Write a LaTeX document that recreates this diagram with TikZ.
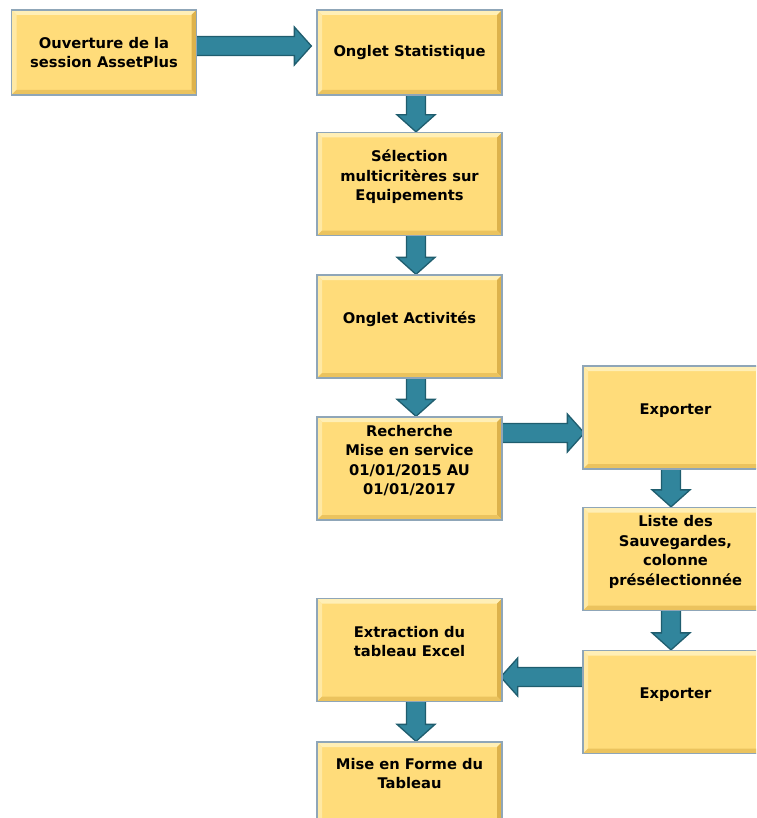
\documentclass[tikz,border=0pt]{standalone}
\usepackage{fontspec}
\setmainfont{DejaVu Sans}
\usepackage{xcolor}
\usepackage{tikz}
\usetikzlibrary{calc,backgrounds}

\definecolor{boxfill}{HTML}{FFDC7A}
\definecolor{boxtop}{HTML}{FFEFB6}
\definecolor{boxshade}{HTML}{DDB24C}
\definecolor{boxline}{HTML}{8FA6B8}
\definecolor{arrowfill}{HTML}{31859C}
\definecolor{arrowline}{HTML}{1F5D6E}

\tikzset{
  stepbox/.style={draw=boxline, line width=1.3pt, fill=boxfill,
    minimum width=185pt, minimum height=85pt, inner sep=2pt, align=center,
    font=\fontsize{14.7}{19.5}\selectfont\bfseries,
    path picture={
      % bevel
      \fill[boxtop] (path picture bounding box.north west) -- (path picture bounding box.north east)
        -- ([xshift=-5pt,yshift=-5pt]path picture bounding box.north east) -- ([xshift=5pt,yshift=-5pt]path picture bounding box.north west) -- cycle;
      \fill[boxtop!70!boxfill] (path picture bounding box.north west) -- (path picture bounding box.south west)
        -- ([xshift=5pt,yshift=5pt]path picture bounding box.south west) -- ([xshift=5pt,yshift=-5pt]path picture bounding box.north west) -- cycle;
      \fill[boxshade] (path picture bounding box.north east) -- (path picture bounding box.south east)
        -- ([xshift=-5pt,yshift=5pt]path picture bounding box.south east) -- ([xshift=-5pt,yshift=-5pt]path picture bounding box.north east) -- cycle;
      \fill[boxshade!60!boxfill] (path picture bounding box.south west) -- (path picture bounding box.south east)
        -- ([xshift=-5pt,yshift=5pt]path picture bounding box.south east) -- ([xshift=5pt,yshift=5pt]path picture bounding box.south west) -- cycle;
    }},
  tallbox/.style={stepbox, minimum height=103pt, text depth=17pt},
  flowline/.style={fill=arrowfill, draw=arrowline, line width=1.3pt, line join=miter}
}

% block arrow from #1 to #2
\newcommand\flowarrow[2]{%
  \draw[flowline] let \p1=(#1), \p2=(#2), \n1={atan2(\y2-\y1,\x2-\x1)}, \n2={veclen(\x2-\x1,\y2-\y1)} in
    [shift={(\p1)}, rotate=\n1]
    (0,-9.5) -- ({\n2-17},-9.5) -- ({\n2-17},-19) -- (\n2,0) -- ({\n2-17},19) -- ({\n2-17},9.5) -- (0,9.5) -- cycle;
}

\begin{document}
\begin{tikzpicture}[x=1pt, y=-1pt]
    \useasboundingbox (0,0) rectangle (756,818);
    \clip (0,0) rectangle (756,818);

    % Left column
    \node[stepbox] (ouverture) at (104,52.5) {Ouverture de la\\session AssetPlus};

    % Middle column
    \node[stepbox] (statistique) at (409.5,52.5) {Onglet Statistique};
    \node[tallbox] (selection) at (409.5,184) {S\'election\\multicrit\`eres sur\\Equipements};
    \node[tallbox] (activites) at (409.5,326.5) {Onglet Activit\'es};
    \node[tallbox] (recherche) at (409.5,468.5) {Recherche\\Mise en service\\01/01/2015 AU\\01/01/2017};
    \node[tallbox] (extraction) at (409.5,650) {Extraction du\\tableau Excel};
    \node[tallbox, text depth=40pt] (miseforme) at (409.5,793.5) {Mise en Forme du\\Tableau};

    % Right column
    \node[tallbox] (exporter) at (675.5,417.5) {Exporter};
    \node[tallbox] (sauvegardes) at (675.5,559) {Liste des\\Sauvegardes,\\colonne\\pr\'es\'electionn\'ee};
    \node[tallbox] (exporterbis) at (675.5,702) {Exporter};

    % Arrows
    \begin{pgfonlayer}{background}
    \flowarrow{[xshift=-2pt,yshift=6.5pt]ouverture.east}{[xshift=-5pt,yshift=6.5pt]statistique.west}
    \flowarrow{[xshift=6.5pt,yshift=2pt]statistique.south}{[xshift=6.5pt]selection.north}
    \flowarrow{[xshift=6.5pt,yshift=2pt]selection.south}{[xshift=6.5pt]activites.north}
    \flowarrow{[xshift=6.5pt,yshift=2pt]activites.south}{[xshift=6.5pt]recherche.north}
    \flowarrow{[xshift=-2pt,yshift=35.5pt]recherche.east}{[xshift=2pt,yshift=-15.5pt]exporter.west}
    \flowarrow{[xshift=-4.5pt,yshift=2pt]exporter.south}{[xshift=-4.5pt]sauvegardes.north}
    \flowarrow{[xshift=-4.5pt,yshift=2pt]sauvegardes.south}{[xshift=-4.5pt]exporterbis.north}
    \flowarrow{[xshift=2pt,yshift=25pt]exporterbis.west}{[xshift=-2pt,yshift=-27pt]extraction.east}
    \flowarrow{[xshift=6.5pt,yshift=2pt]extraction.south}{[xshift=6.5pt]miseforme.north}
    \end{pgfonlayer}
\end{tikzpicture}
\end{document}
